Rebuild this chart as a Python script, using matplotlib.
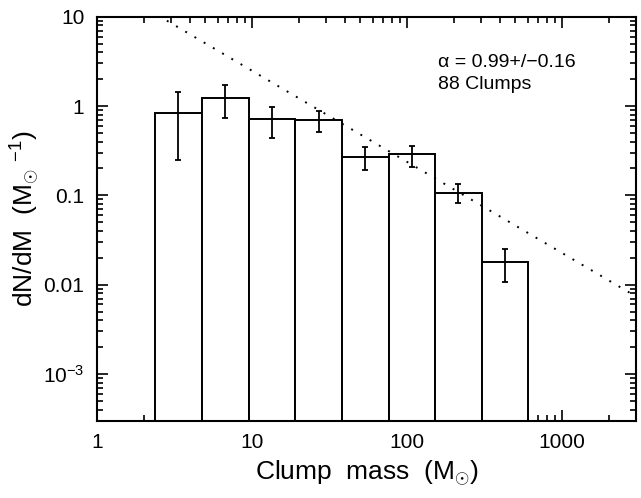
import numpy as np
import matplotlib
matplotlib.use("Agg")
import matplotlib.pyplot as plt
from matplotlib.ticker import FixedLocator, FixedFormatter, LogLocator, NullFormatter

# bin edges of the clump-mass histogram (Msun)
bin_edges = [2.37, 4.74, 9.5, 19.0, 38.0, 76.0, 152.0, 303.0, 606.0]
# dN/dM per bin and the error-bar ends
dndm      = [0.84, 1.23, 0.72, 0.70, 0.27, 0.29, 0.106, 0.018]
err_upper = [1.43, 1.73, 0.98, 0.875, 0.35, 0.36, 0.133, 0.0252]
err_lower = [0.247, 0.73, 0.44, 0.51, 0.19, 0.21, 0.0815, 0.0107]

# power-law fit drawn as dotted line
fit_norm  = 26.0
fit_slope = -1.02

x_ticks  = [1, 10, 100, 1000]
x_labels = ["1", "10", "100", "1000"]
y_ticks  = [1e-3, 1e-2, 1e-1, 1, 10]
y_labels = [r"$10^{-3}$", "0.01", "0.1", "1", "10"]

plt.rcParams["font.family"] = ["Liberation Sans", "DejaVu Sans"]
plt.rcParams["mathtext.fontset"] = "custom"
plt.rcParams["mathtext.rm"] = "Liberation Sans"
plt.rcParams["mathtext.it"] = "Liberation Sans"

fig = plt.figure(figsize=(6.41, 4.98), dpi=100)
ax = fig.add_axes([0.1513, 0.1552, 0.8409, 0.8113])
ax.set_xscale("log")
ax.set_yscale("log")

edges = np.array(bin_edges)
vals  = np.array(dndm)
lefts  = edges[:-1]
widths = edges[1:] - edges[:-1]
ax.bar(lefts, vals - 1e-6, width=widths, bottom=1e-6, align="edge",
       facecolor="white", edgecolor="black", linewidth=1.4, zorder=2)

centers = np.sqrt(edges[:-1] * edges[1:])
yerr = [vals - np.array(err_lower), np.array(err_upper) - vals]
ax.errorbar(centers, vals, yerr=yerr, fmt="none", ecolor="black",
            elinewidth=1.3, capsize=2.5, capthick=1.3, zorder=3)

xm = np.logspace(0, np.log10(3000), 200)
ax.plot(xm, fit_norm * xm ** fit_slope, color="black", linewidth=1.4,
        linestyle=(0, (1, 4.5)), zorder=4)

ax.set_xlim(1, 3000)
ax.set_ylim(3e-4, 10)

ax.xaxis.set_major_locator(FixedLocator(x_ticks))
ax.xaxis.set_major_formatter(FixedFormatter(x_labels))
ax.xaxis.set_minor_locator(LogLocator(base=10, subs=np.arange(2, 10), numticks=20))
ax.xaxis.set_minor_formatter(NullFormatter())
ax.yaxis.set_major_locator(FixedLocator(y_ticks))
ax.yaxis.set_major_formatter(FixedFormatter(y_labels))
ax.yaxis.set_minor_locator(LogLocator(base=10, subs=np.arange(2, 10), numticks=20))
ax.yaxis.set_minor_formatter(NullFormatter())

ax.tick_params(which="both", direction="in", top=True, right=True,
               labelsize=15, width=1.2, pad=9)
ax.tick_params(which="major", length=8)
ax.tick_params(which="minor", length=4)
for sp in ax.spines.values():
    sp.set_linewidth(1.5)

ax.set_xlabel(r"Clump  mass  (M$_{\odot}$)", fontsize=19, labelpad=5)
ax.set_ylabel(r"dN/dM  (M$_{\odot}$ $^{-1}$)", fontsize=19, labelpad=1)

ax.text(0.632, 0.886, "α = 0.99+/\u22120.16", transform=ax.transAxes,
        fontsize=14, va="center", ha="left")
ax.text(0.632, 0.832, "88 Clumps", transform=ax.transAxes,
        fontsize=14, va="center", ha="left")

fig.savefig("out.png", dpi=100)
